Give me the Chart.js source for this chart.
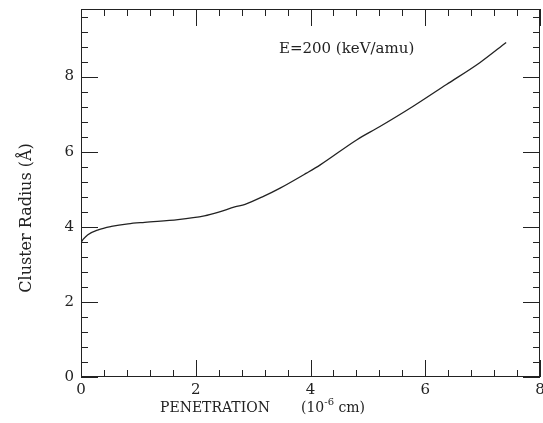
<!DOCTYPE html>
<html><head><meta charset="utf-8">
<script src="https://cdn.jsdelivr.net/npm/chart.js@4"></script>
<style>html,body{margin:0;padding:0;background:#fff}#wrap{width:543px;height:423px}</style>
</head><body><div id="wrap"><canvas id="c" width="543" height="423"></canvas></div>
<script>
const penetration = [0, 0.04, 0.12, 0.30, 0.53, 0.82, 1.11, 1.69, 2.15, 2.40, 2.68, 2.86, 3.18, 3.47, 3.93, 4.17, 4.81, 5.21, 5.79, 6.37, 6.95, 7.41];
const radius      = [3.58, 3.67, 3.79, 3.92, 4.01, 4.08, 4.12, 4.19, 4.29, 4.39, 4.53, 4.60, 4.81, 5.03, 5.43, 5.65, 6.32, 6.67, 7.21, 7.79, 8.37, 8.91];
const xTicks = [0, 2, 4, 6, 8];
const yTicks = [0, 2, 4, 6, 8];
const annotation = {text: 'E=200 (keV/amu)', x: 3.45, y: 8.73};
const yTitle = 'Cluster Radius (Å)';
const xTitleParts = ['PENETRATION', '(10', '-6', ' cm)'];
const FONT = '"DejaVu Serif", "Liberation Serif", serif';
const INK = '#222';

const frame = {
  id: 'frame',
  afterDraw(chart) {
    const {ctx, chartArea: a, scales: {x, y}} = chart;
    ctx.save();
    ctx.strokeStyle = INK; ctx.lineWidth = 1;
    ctx.strokeRect(a.left + 0.5, a.top + 0.5, a.right - a.left - 1, a.bottom - a.top - 1);
    const maj = 17, min = 7;
    ctx.beginPath();
    for (let v = 0; v <= 8.0001; v += 0.4) {
      const px = Math.round(x.getPixelForValue(v)) + 0.5;
      const isMaj = Math.abs(v / 2 - Math.round(v / 2)) < 1e-6;
      const L = isMaj ? maj : min;
      ctx.moveTo(px, a.bottom); ctx.lineTo(px, a.bottom - L);
      ctx.moveTo(px, a.top); ctx.lineTo(px, a.top + L);
    }
    for (let v = 0; v <= 9.8; v += 0.4) {
      const py = Math.round(y.getPixelForValue(v)) + 0.5;
      const isMaj = Math.abs(v / 2 - Math.round(v / 2)) < 1e-6;
      const L = isMaj ? maj : min;
      ctx.moveTo(a.left, py); ctx.lineTo(a.left + L, py);
      ctx.moveTo(a.right, py); ctx.lineTo(a.right - L, py);
    }
    ctx.stroke();
    ctx.fillStyle = INK;
    // annotation
    ctx.font = '15px ' + FONT;
    ctx.textBaseline = 'middle';
    ctx.textAlign = 'left';
    ctx.fillText(annotation.text, x.getPixelForValue(annotation.x), y.getPixelForValue(annotation.y));
    // x title
    ctx.font = '14px ' + FONT;
    ctx.textBaseline = 'alphabetic';
    const by = 412;
    ctx.fillText(xTitleParts[0], 160, by);
    let cx = 301;
    ctx.fillText(xTitleParts[1], cx, by);
    cx += ctx.measureText(xTitleParts[1]).width;
    ctx.font = '10px ' + FONT;
    ctx.fillText(xTitleParts[2], cx, by - 7);
    cx += ctx.measureText(xTitleParts[2]).width;
    ctx.font = '14px ' + FONT;
    ctx.fillText(xTitleParts[3], cx, by);
    // y title
    ctx.translate(27, 218);
    ctx.rotate(-Math.PI / 2);
    ctx.font = '16px ' + FONT;
    ctx.textAlign = 'center';
    ctx.textBaseline = 'middle';
    ctx.fillText(yTitle, 0, 0);
    ctx.restore();
  }
};

new Chart(document.getElementById('c'), {
  type: 'line',
  data: { datasets: [{
    data: penetration.map((v, i) => ({x: v, y: radius[i]})),
    borderColor: INK, borderWidth: 1.3, pointRadius: 0, tension: 0.4, cubicInterpolationMode: 'monotone', fill: false
  }]},
  options: {
    responsive: false, animation: false,
    layout: {padding: {left: 0, right: 3, top: 9, bottom: 0}},
    plugins: {legend: {display: false}, tooltip: {enabled: false}},
    scales: {
      x: {
        type: 'linear', min: 0, max: 8,
        afterBuildTicks: s => { s.ticks = xTicks.map(v => ({value: v})); },
        afterFit: s => { s.height = 46; s.paddingLeft = 0; s.paddingRight = 0; s.paddingTop = 0; s.paddingBottom = 0; },
        grid: {display: false, drawTicks: false, tickLength: 0}, border: {display: false},
        ticks: {color: INK, font: {family: FONT, size: 15}, padding: 4, maxRotation: 0}
      },
      y: {
        type: 'linear', min: 0, max: 9.8,
        afterBuildTicks: s => { s.ticks = yTicks.map(v => ({value: v})); },
        afterFit: s => { s.width = 81; s.paddingLeft = 0; s.paddingRight = 0; s.paddingTop = 0; s.paddingBottom = 0; },
        grid: {display: false, drawTicks: false, tickLength: 0}, border: {display: false},
        ticks: {color: INK, font: {family: FONT, size: 15}, padding: 7}
      }
    }
  },
  plugins: [frame]
});
</script></body></html>
